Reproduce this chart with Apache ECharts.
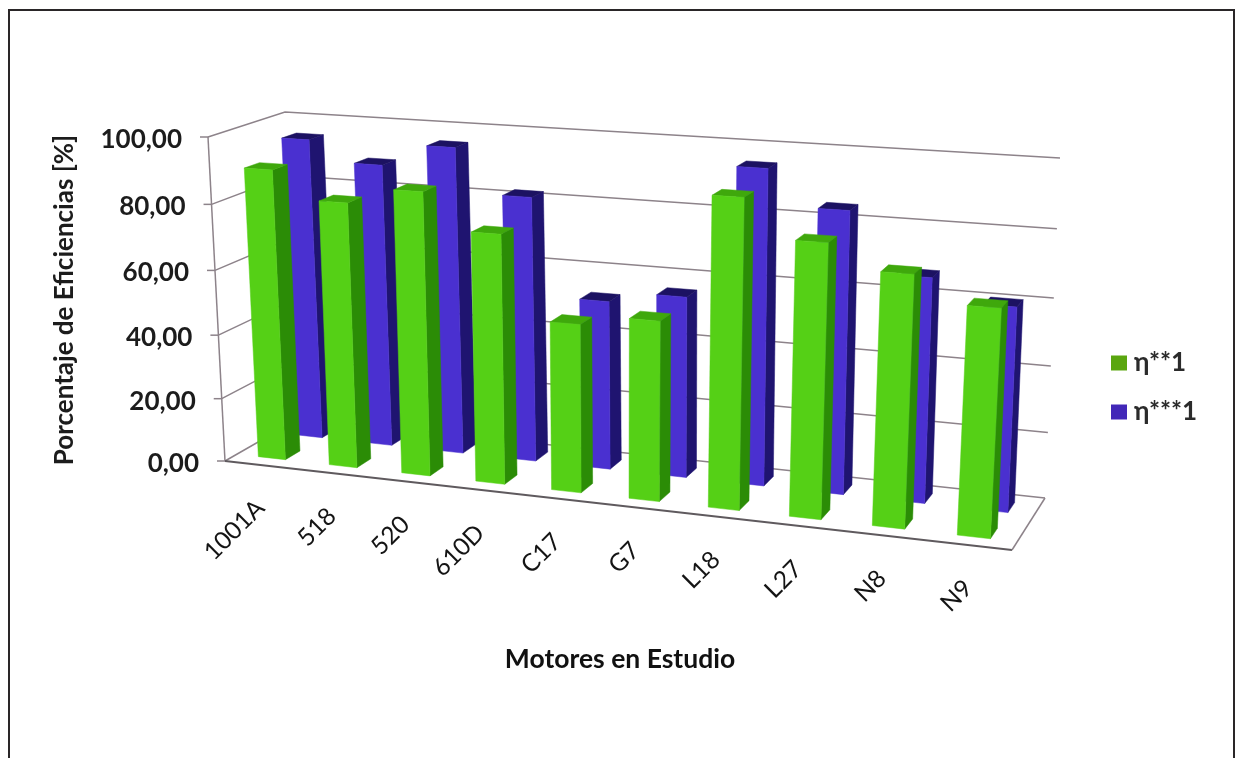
<!DOCTYPE html>
<html>
<head>
<meta charset="utf-8">
<style>html,body{margin:0;padding:0;background:#fff}#chart{width:1237px;height:758px}</style>
<script src="https://cdn.jsdelivr.net/npm/echarts@6/dist/echarts.min.js"></script>
</head>
<body>
<div id="chart"></div>
<script>
// Efficiency of the studied motors, shown as 3-D columns on a perspective floor.
const categories = ['1001A', '518', '520', '610D', 'C17', 'G7', 'L18', 'L27', 'N8', 'N9'];
const etaDouble = [90, 81.7, 86.5, 75.7, 51, 54, 91, 80, 73, 65.5];
const etaTriple = [95, 88.7, 95.4, 82, 52.3, 55.6, 95, 84.5, 67, 60.5];
const yTicks = [0, 20, 40, 60, 80, 100];
const yTickLabels = ['0,00', '20,00', '40,00', '60,00', '80,00', '100,00'];

// Corners of the floor and ceiling of the box: front-left, front-right, back-right, back-left.
const FLOOR = [[225, 461], [1012, 550], [1045, 498], [300, 418]];
const CEILING = [[208, 137], [1031, 187], [1060, 158], [285, 112]];
const HEIGHT_PERSPECTIVE = 1.05;
const FLOOR_WIDTH_PERSPECTIVE = 1.03;
const CEILING_WIDTH_PERSPECTIVE = 1.08;

function squareToQuad(q) {
  const [[x0, y0], [x1, y1], [x2, y2], [x3, y3]] = q;
  const dx1 = x1 - x2, dx2 = x3 - x2, sx = x0 - x1 + x2 - x3;
  const dy1 = y1 - y2, dy2 = y3 - y2, sy = y0 - y1 + y2 - y3;
  const den = dx1 * dy2 - dx2 * dy1;
  const g = (sx * dy2 - dx2 * sy) / den, h = (dx1 * sy - sx * dy1) / den;
  const a = x1 - x0 + g * x1, b = x3 - x0 + h * x3;
  const d = y1 - y0 + g * y1, e = y3 - y0 + h * y3;
  return (u, v) => {
    const w = g * u + h * v + 1;
    return [(a * u + b * v + x0) / w, (d * u + e * v + y0) / w];
  };
}
const floorMap = squareToQuad(FLOOR);
const ceilingMap = squareToQuad(CEILING);
const foreshorten = (s, w) => s / (s + w * (1 - s));

// u: across the categories, v: depth (0 front, 1 back), t: height (0 floor, 1 top of the scale).
function project(u, v, t) {
  const k = foreshorten(t, HEIGHT_PERSPECTIVE);
  const a = floorMap(foreshorten(u, FLOOR_WIDTH_PERSPECTIVE), v);
  const b = ceilingMap(foreshorten(u, CEILING_WIDTH_PERSPECTIVE), v);
  return [a[0] + (b[0] - a[0]) * k, a[1] + (b[1] - a[1]) * k];
}

// The hidden cartesian grid supplies the scales; its pixels are normalised before projecting.
const GRID = { left: 100, top: 100, width: 1000, height: 500 };
function toUnit(api, cat, val) {
  const p = api.coord([cat, val]);
  return [(p[0] - GRID.left) / GRID.width, 1 - (p[1] - GRID.top) / GRID.height];
}

const BAR_HALF_WIDTH = 0.0192;

function prism(api, depthFront, depthBack, colors) {
  const cat = api.value(0), val = api.value(1);
  const [uc, t] = toUnit(api, cat, val);
  const u0 = uc - BAR_HALF_WIDTH, u1 = uc + BAR_HALF_WIDTH;
  const pts = arr => arr.map(a => project(a[0], a[1], a[2]));
  const face = (corners, fill) => ({
    type: 'polygon',
    shape: { points: pts(corners) },
    style: { fill: fill, stroke: fill, lineWidth: 0.5 }
  });
  return {
    type: 'group',
    children: [
      face([[u1, depthFront, 0], [u1, depthBack, 0], [u1, depthBack, t], [u1, depthFront, t]], colors.side),
      face([[u0, depthFront, t], [u1, depthFront, t], [u1, depthBack, t], [u0, depthBack, t]], colors.top),
      face([[u0, depthFront, 0], [u1, depthFront, 0], [u1, depthFront, t], [u0, depthFront, t]], colors.front)
    ]
  };
}

const GREEN = { front: '#55d016', side: '#2b8c06', top: '#3fa80c' };
const BLUE = { front: '#4a30d0', side: '#1f1470', top: '#1c1262' };
const GRID_LINE = '#8d838a';

function renderWall(params, api) {
  const val = api.value(0);
  const [, t] = toUnit(api, 0, val);
  const frontLeft = project(0, 0, t);
  const backLeft = project(0, 1, t);
  const backRight = project(1, 1, t);
  const lineStyle = { stroke: GRID_LINE, lineWidth: 1.5, fill: 'none' };
  const children = [
    { type: 'polyline', shape: { points: [frontLeft, backLeft, backRight] }, style: lineStyle },
    { type: 'line', shape: { x1: frontLeft[0] - 8, y1: frontLeft[1], x2: frontLeft[0], y2: frontLeft[1] }, style: lineStyle },
    {
      type: 'text', x: frontLeft[0] - 26, y: frontLeft[1] + 2.5,
      style: {
        text: yTickLabels[params.dataIndex], align: 'right', verticalAlign: 'middle',
        font: 'bold 26px Lato', fill: '#1c1c1c'
      }
    }
  ];
  if (params.dataIndex === 0) {
    const frontRight = project(1, 0, 0);
    const leftTop = project(0, 0, 1);
    children.push(
      { type: 'line', shape: { x1: frontLeft[0], y1: frontLeft[1], x2: leftTop[0], y2: leftTop[1] }, style: lineStyle },
      { type: 'line', shape: { x1: frontLeft[0], y1: frontLeft[1], x2: frontRight[0], y2: frontRight[1] }, style: { stroke: '#5f5a5e', lineWidth: 2 } },
      { type: 'line', shape: { x1: frontRight[0], y1: frontRight[1], x2: backRight[0], y2: backRight[1] }, style: lineStyle }
    );
  }
  return { type: 'group', children: children };
}

function renderCategoryLabel(params, api) {
  const [uc] = toUnit(api, api.value(0), 0);
  const p = project(uc, 0, 0);
  return {
    type: 'text', x: p[0], y: p[1] + 39, rotation: Math.PI / 4,
    style: {
      text: categories[params.dataIndex], align: 'right', verticalAlign: 'middle',
      font: '24.5px Lato', fill: '#141414'
    }
  };
}

const chart = echarts.init(document.getElementById('chart'), null, { renderer: 'canvas' });
chart.setOption({
  animation: false,
  backgroundColor: '#ffffff',
  grid: GRID,
  xAxis: { type: 'category', data: categories, show: false, boundaryGap: true },
  yAxis: { type: 'value', min: 0, max: 100, interval: 20, show: false },
  legend: {
    orient: 'vertical', left: 1106, top: 345, itemWidth: 16, itemHeight: 15, itemGap: 23,
    icon: 'rect', data: ['η**1', 'η***1'],
    textStyle: { fontFamily: 'Lato', fontWeight: 'bold', fontSize: 26, color: '#2b2b2b', padding: [0, 0, 0, 2] }
  },
  graphic: [
    { type: 'polyline', z: 0, shape: { points: [[9, 758], [9, 10], [1234, 10], [1234, 758]] }, style: { stroke: '#2a2628', lineWidth: 2, fill: 'none' } },
    {
      type: 'text', x: 65, y: 300, rotation: Math.PI / 2,
      style: { text: 'Porcentaje de Eficiencias [%]', align: 'center', verticalAlign: 'middle', font: 'bold 26px Lato', fill: '#1c1c1c' }
    },
    {
      type: 'text', x: 620, y: 659,
      style: { text: 'Motores en Estudio', align: 'center', verticalAlign: 'middle', font: 'bold 26.5px Lato', fill: '#111' }
    }
  ],
  series: [
    { type: 'custom', name: 'walls', silent: true, z: 1, data: yTicks.map(v => [v]), encode: { y: 0 }, renderItem: renderWall },
    { type: 'custom', name: 'labels', silent: true, z: 1, data: categories.map((c, i) => [i]), encode: { x: 0 }, renderItem: renderCategoryLabel },
    {
      type: 'custom', name: 'η***1', z: 2, itemStyle: { color: '#4228b8' },
      data: etaTriple.map((v, i) => [i, v]), encode: { x: 0, y: 1 },
      renderItem: (p, api) => prism(api, 0.65, 0.85, BLUE)
    },
    {
      type: 'custom', name: 'η**1', z: 3, itemStyle: { color: '#5aa60f' },
      data: etaDouble.map((v, i) => [i, v]), encode: { x: 0, y: 1 },
      renderItem: (p, api) => prism(api, 0.15, 0.345, GREEN)
    }
  ]
});
</script>
</body>
</html>
